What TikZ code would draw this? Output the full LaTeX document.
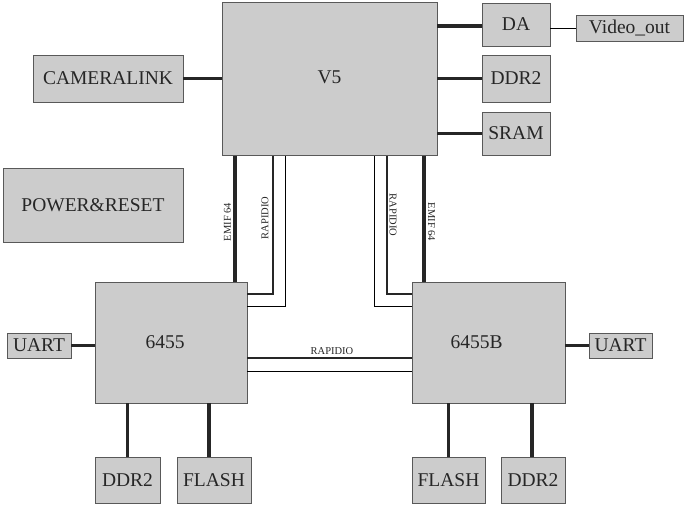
\documentclass[tikz,border=0pt]{standalone}
\usepackage{fontspec}
\setmainfont{Liberation Serif}
\begin{document}
\begin{tikzpicture}[x=1pt,y=-1pt,
  box/.style={draw=black!65, fill=black!20, line width=0.9pt, inner sep=0pt,
    font=\fontsize{19.5}{22}\selectfont, text=black!85},
  bus/.style={line width=3.2pt, black!85},
  thin/.style={line width=0.9pt, black},
  mid/.style={line width=1.8pt, black!85},
  lbl/.style={font=\fontsize{10.5}{12}\selectfont, inner sep=0pt, text=black!85}]
\useasboundingbox (0,0) rectangle (685,505);
% boxes
\node[box, minimum width=215, minimum height=153] (v5) at (329.5,79) {\raisebox{4pt}{V5}};
\node[box, minimum width=150, minimum height=47] (cam) at (108,78.5) {CAMERALINK};
\node[box, minimum width=180, minimum height=74] (pwr) at (93,205) {POWER\&RESET};
\node[box, minimum width=68, minimum height=43] (da) at (516,24.5) {DA};
\node[box, minimum width=107, minimum height=26, line width=0.7pt] (vout) at (629.5,28) {Video\_out};
\node[box, minimum width=68, minimum height=47] (ddrt) at (516,78.5) {DDR2};
\node[box, minimum width=68, minimum height=43] (sram) at (516,133.5) {SRAM};
\node[box, minimum width=152, minimum height=121] (a) at (171,342.5) {\hspace*{-12pt}\raisebox{-3pt}{6455}};
\node[box, minimum width=153, minimum height=121] (b) at (488.5,342.5) {\hspace*{-24pt}\raisebox{-3pt}{6455B}};
\node[box, minimum width=64, minimum height=25] (ul) at (39,345.5) {UART};
\node[box, minimum width=63, minimum height=25] (ur) at (620.5,345.5) {UART};
\node[box, minimum width=65, minimum height=46] (ddra) at (127.5,480) {DDR2};
\node[box, minimum width=74, minimum height=46] (fla) at (214,480) {FLASH};
\node[box, minimum width=73, minimum height=46] (flb) at (448.5,480) {FLASH};
\node[box, minimum width=64, minimum height=46] (ddrb) at (533,480) {DDR2};
% helper coordinates
\coordinate (yda) at (0,26);
\coordinate (yvo) at (0,28);
\coordinate (xfa) at (209,0);
\coordinate (xdb) at (532,0);
% simple connectors
\draw[bus] (da.west |- yda) -- (v5.east |- yda);
\draw[bus] (cam.east) -- (cam.east -| v5.west);
\draw[thin] (da.east |- yvo) -- (vout.west |- yvo);
\draw[bus] (ddrt.west) -- (ddrt.west -| v5.east);
\draw[bus] (sram.west) -- (sram.west -| v5.east);
\draw[bus] (ul.east) -- (ul.east -| a.west);
\draw[bus] (ur.west) -- (ur.west -| b.east);
\draw[bus] (ddra.north) -- (ddra.north |- a.south);
\draw[bus] (xfa |- fla.north) -- (xfa |- a.south);
\draw[bus] (flb.north) -- (flb.north |- b.south);
\draw[bus] (xdb |- ddrb.north) -- (xdb |- b.south);
% EMIF buses
\coordinate (ea) at (235,0);
\coordinate (eb) at (424,0);
\draw[bus] (ea |- v5.south) -- (ea |- a.north);
\draw[bus] (eb |- v5.south) -- (eb |- b.north);
\node[lbl, rotate=90] (emifa) at (227.5,222) {EMIF 64};
\node[lbl, rotate=-90] (emifb) at (431.5,222) {EMIF 64};
% RapidIO V5 - 6455
\coordinate (ra1) at (273,294);
\coordinate (ra2) at (285,306);
\draw[mid] (ra1 |- v5.south) -- (ra1) -- (ra1 -| a.east);
\draw[thin] (ra2 |- v5.south) -- (ra2) -- (ra2 -| a.east);
\node[lbl, rotate=90] (rapa) at (265,218) {RAPIDIO};
% RapidIO V5 - 6455B
\coordinate (rb1) at (387,294);
\coordinate (rb2) at (374,306);
\draw[mid] (rb1 |- v5.south) -- (rb1) -- (rb1 -| b.west);
\draw[thin] (rb2 |- v5.south) -- (rb2) -- (rb2 -| b.west);
\node[lbl, rotate=-90] (rapb) at (393,215) {RAPIDIO};
% RapidIO 6455 - 6455B
\coordinate (h1) at (0,358);
\coordinate (h2) at (0,371);
\draw[mid] (a.east |- h1) -- (b.west |- h1);
\draw[thin] (a.east |- h2) -- (b.west |- h2);
\node[lbl] (raph) at (332,351) {RAPIDIO};
\end{tikzpicture}
\end{document}
